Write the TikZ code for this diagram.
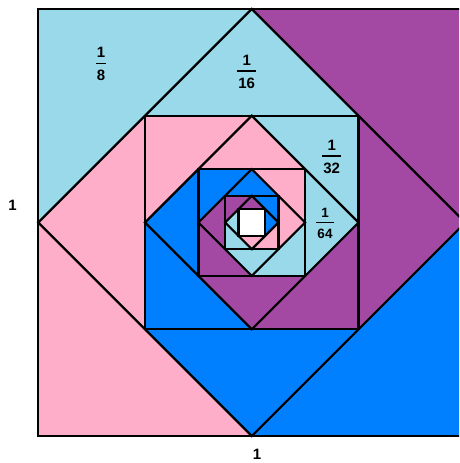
\documentclass[tikz,border=0pt]{standalone}
\usepackage{fontspec}
\setmainfont{Liberation Sans}
\usetikzlibrary{calc}
\definecolor{paleblue}{RGB}{153,217,234}
\definecolor{plum}{RGB}{163,73,164}
\definecolor{brightblue}{RGB}{0,128,255}
\definecolor{rosepink}{RGB}{255,174,201}
\setlength{\arrayrulewidth}{1.2pt}
\newcommand{\piece}[2]{\begin{tabular}{@{\hspace{1.3pt}}c@{\hspace{1.3pt}}}#1\\\hline\noalign{\vskip4.2pt}#2\end{tabular}}

\begin{document}
\begin{tikzpicture}[
    x=1pt, y=-1pt,
    line width=2.2pt,
    lbl/.style={font=\bfseries\fontsize{15}{18}\selectfont, inner sep=0pt},
    small lbl/.style={font=\bfseries\fontsize{13.5}{16}\selectfont, inner sep=0pt}
  ]
  \useasboundingbox (0,0) rectangle (459,463);
  \begin{scope}
  \clip (0,0) rectangle (459,463);

  % coloured triangles, one ring at a time
  \foreach \k/\ca/\cb/\cc/\cd in {0/paleblue/plum/brightblue/rosepink,
      1/rosepink/paleblue/plum/brightblue,
      2/brightblue/rosepink/paleblue/plum,
      3/plum/brightblue/rosepink/paleblue}{
    \pgfmathsetmacro{\h}{213.5/2^\k}
    \pgfmathsetmacro{\q}{\h/2}
    \begin{scope}[shift={(251.8,222.5)}]
      \fill[\ca] (-\h,-\h) -- (0,-\h) -- (-\h,0) -- cycle;
      \fill[\cb] (\h,-\h) -- (\h,0) -- (0,-\h) -- cycle;
      \fill[\cc] (\h,\h) -- (0,\h) -- (\h,0) -- cycle;
      \fill[\cd] (-\h,\h) -- (-\h,0) -- (0,\h) -- cycle;
      \fill[\ca] (0,-\h) -- (\q,-\q) -- (-\q,-\q) -- cycle;
      \fill[\cb] (\h,0) -- (\q,\q) -- (\q,-\q) -- cycle;
      \fill[\cc] (0,\h) -- (-\q,\q) -- (\q,\q) -- cycle;
      \fill[\cd] (-\h,0) -- (-\q,-\q) -- (-\q,\q) -- cycle;
    \end{scope}
  }

  % squares and diamonds
  \foreach \k in {0,...,3}{
    \pgfmathsetmacro{\h}{213.5/2^\k}
    \begin{scope}[shift={(251.8,222.5)}]
      \draw (-\h,-\h) rectangle (\h,\h);
      \draw (0,-\h) -- (\h,0) -- (0,\h) -- (-\h,0) -- cycle;
    \end{scope}
  }
  \filldraw[fill=white] (251.8-13.34,222.5-13.34) rectangle (251.8+13.34,222.5+13.34);
  \end{scope}

  % labels
  \node[lbl] (eighth) at (101,65.4) {\piece{1}{8}};
  \node[lbl] (sixteenth) at (246.7,73.1) {\piece{1}{16}};
  \node[lbl] (thirtysecond) at (331.7,158.1) {\piece{1}{32}};
  \node[small lbl] (sixtyfourth) at (325,224.6) {\piece{1}{64}};
  \node[lbl] (side) at (12.5,205) {1};
  \node[lbl] (base) at (257,454.5) {1};
\end{tikzpicture}
\end{document}
